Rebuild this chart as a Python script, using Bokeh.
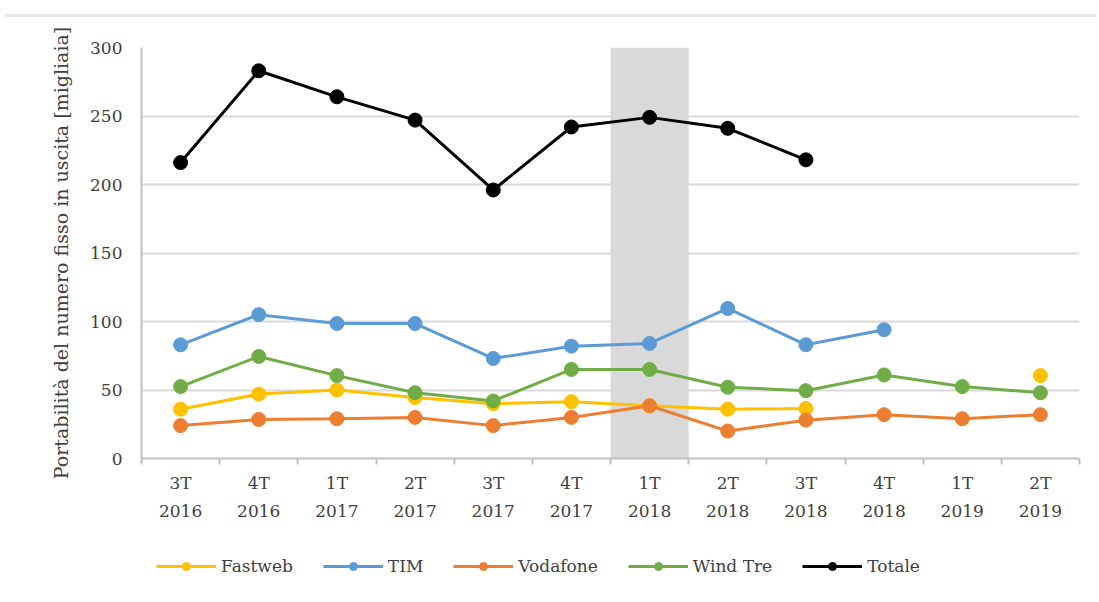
import math
from bokeh.plotting import figure
from bokeh.models import (FixedTicker, Legend, LegendItem, Range1d, Div, BoxAnnotation)
from bokeh.layouts import column
from bokeh.embed import file_html
from bokeh.resources import INLINE

NaN = float("nan")

quarters = ["3T", "4T", "1T", "2T", "3T", "4T", "1T", "2T", "3T", "4T", "1T", "2T"]
years = ["2016", "2016", "2017", "2017", "2017", "2017", "2018", "2018", "2018", "2018", "2019", "2019"]
highlight = "1T\n2018"

fastweb = [36, 47, 50, 44.5, 40, 41.5, 38.5, 36, 36.5, NaN, NaN, 60.5]
tim = [83, 105, 98.5, 98.5, 73, 82, 84, 109.5, 83, 94, NaN, NaN]
vodafone = [24, 28.5, 29, 30, 24, 30, 38.5, 20, 28, 32, 29, 32]
windtre = [52.5, 74.5, 60.5, 48, 42, 65, 65, 52, 49.5, 61, 52.5, 48]
totale = [216, 283, 264, 247, 196, 242, 249, 241, 218, NaN, NaN, NaN]

series = [
    ("Fastweb", fastweb, "#FFC000"),
    ("TIM", tim, "#5B9BD5"),
    ("Vodafone", vodafone, "#ED7D31"),
    ("Wind Tre", windtre, "#70AD47"),
    ("Totale", totale, "#000000"),
]

labels = [q + "\n" + y for q, y in zip(quarters, years)]
xs = list(range(len(labels)))

FONT = "DejaVu Serif"
TXT = "#404040"

p = figure(width=1083, height=518, output_backend="svg", toolbar_location=None,
           x_range=Range1d(-0.5, len(labels) - 0.5), y_range=Range1d(0, 300),
           min_border_left=141, min_border_right=4, min_border_top=25, min_border_bottom=82)
p.outline_line_color = None
p.background_fill_color = "white"

hi = labels.index(highlight)
p.add_layout(BoxAnnotation(left=hi - 0.5, right=hi + 0.5, bottom=0, top=300,
                           fill_color="#d9d9d9", fill_alpha=1.0, line_color=None, level="underlay"))

# axes
p.xaxis.ticker = FixedTicker(ticks=xs, minor_ticks=[i - 0.5 for i in range(len(labels) + 1)])
p.xaxis.major_label_overrides = {i: l for i, l in zip(xs, labels)}
p.xaxis.major_tick_line_color = None
p.xaxis.minor_tick_line_color = "#bfbfbf"
p.xaxis.minor_tick_out = 6
p.xaxis.minor_tick_in = 0
p.xaxis.minor_tick_line_width = 2
p.xaxis.axis_line_color = "#bfbfbf"
p.xaxis.axis_line_width = 2
p.xaxis.major_label_text_font = FONT
p.xaxis.major_label_text_font_size = "17px"
p.xaxis.major_label_text_color = TXT
p.xaxis.major_label_text_line_height = 1.4
p.xaxis.major_label_standoff = 8
p.xgrid.grid_line_color = None

p.yaxis.ticker = FixedTicker(ticks=[0, 50, 100, 150, 200, 250, 300])
p.yaxis.major_tick_line_color = None
p.yaxis.minor_tick_line_color = None
p.yaxis.axis_line_color = "#bfbfbf"
p.yaxis.axis_line_width = 2
p.yaxis.major_label_text_font = FONT
p.yaxis.major_label_text_font_size = "17px"
p.yaxis.major_label_text_color = TXT
p.yaxis.major_label_standoff = 13
p.yaxis.axis_label = "Portabilità del numero fisso in uscita [migliaia]"
p.yaxis.axis_label_text_font = FONT
p.yaxis.axis_label_text_font_style = "normal"
p.yaxis.axis_label_text_font_size = "19px"
p.yaxis.axis_label_text_color = TXT
p.yaxis.axis_label_standoff = 15
p.ygrid.grid_line_color = "#d9d9d9"
p.ygrid.grid_line_width = 2

for name, vals, color in series:
    p.line(xs, vals, line_color=color, line_width=3)
    p.scatter(xs, vals, size=14, fill_color=color, line_color=color)

# legend strip (separate figure so that it sits under the axis labels);
# its renderers use the same series but lie outside the strip's visible range
lg = figure(width=1083, height=50, output_backend="svg", toolbar_location=None,
            x_axis_type=None, y_axis_type=None, min_border=0,
            x_range=Range1d(-0.5, 0.5), y_range=Range1d(-2, -1))
lg.outline_line_color = None
lg.grid.grid_line_color = None
items = []
for name, vals, color in series:
    r1 = lg.line(xs, vals, line_color=color, line_width=3)
    r2 = lg.scatter(xs, vals, size=11, fill_color=color, line_color=color)
    items.append(LegendItem(label=name, renderers=[r1, r2]))
legend = Legend(items=items, orientation="horizontal", location=(15, 14),
                label_text_font=FONT, label_text_font_size="17px", label_text_color=TXT,
                glyph_width=60, glyph_height=20, spacing=30, label_standoff=5,
                border_line_color=None, background_fill_alpha=0, margin=0, padding=0)
lg.add_layout(legend)

top = Div(text="", width=1091, height=12,
          styles={"border-bottom": "3px solid #e8e8e8", "width": "1091px"})

layout = column(top, p, lg, spacing=0)
open("out.html", "w").write(file_html(layout, INLINE))
